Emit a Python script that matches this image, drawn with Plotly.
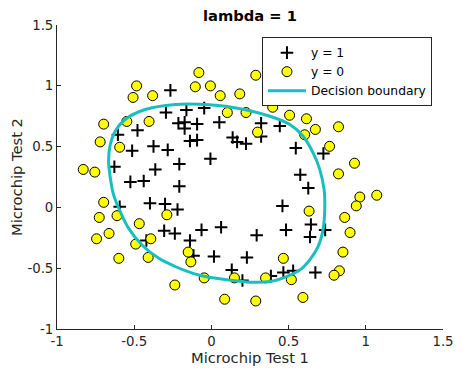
import plotly.graph_objects as go

pos_x = [0.051267, -0.092742, -0.21371, -0.375, -0.51325, -0.52477, -0.39804, -0.30588, 0.016705, 0.13191,
         0.38537, 0.52938, 0.63882, 0.73675, 0.54666, 0.322, 0.16647, -0.046659, -0.17339, -0.47869,
         -0.60541, -0.62846, -0.59389, -0.42108, -0.11578, 0.20104, 0.46601, 0.67339, -0.13882, -0.29435,
         -0.26555, -0.16187, -0.17339, -0.28283, -0.36348, -0.30012, -0.23675, -0.06394, 0.062788, 0.22984,
         0.2932, 0.48329, 0.64459, 0.46025, 0.6273, 0.57546, 0.72523, 0.22408, 0.44297, 0.322,
         0.13767, -0.0063364, -0.092742, -0.20795, -0.20795, -0.43836, -0.21947, -0.13882]
pos_y = [0.69956, 0.68494, 0.69225, 0.50219, 0.46564, 0.2098, 0.034357, -0.19225, -0.40424, -0.51389,
         -0.56506, -0.5212, -0.24342, -0.18494, 0.48757, 0.5826, 0.53874, 0.81652, 0.69956, 0.63377,
         0.59722, 0.33406, 0.005117, -0.27266, -0.39693, -0.60161, -0.53582, -0.53582, 0.54605, 0.77997,
         0.96272, 0.8019, 0.64839, 0.47295, 0.31213, 0.027047, -0.21418, -0.18494, -0.16301, -0.41155,
         -0.2288, -0.18494, -0.14108, 0.012427, 0.15863, 0.26827, 0.44371, 0.52412, 0.67032, 0.69225,
         0.57529, 0.39985, 0.55336, 0.35599, 0.17325, 0.21711, -0.016813, -0.27266]

neg_x = [0.18376, 0.22408, 0.29896, 0.50634, 0.61578, 0.60426, 0.76555, 0.92684, 0.82316, 0.96141,
         0.93836, 0.86348, 0.89804, 0.85196, 0.82892, 0.79435, 0.59274, 0.51786, 0.46601, 0.35081,
         0.28744, 0.085829, 0.14919, -0.13306, -0.40956, -0.39228, -0.74366, -0.69758, -0.75518, -0.69758,
         -0.4038, -0.38076, -0.50749, -0.54781, 0.10311, 0.057028, -0.10426, -0.081221, 0.28744, 0.39689,
         0.63882, 0.82316, 0.67339, 1.0709, -0.046659, -0.23675, -0.15035, -0.49021, -0.46717, -0.28859,
         -0.61118, -0.66302, -0.59965, -0.72638, -0.83007, -0.72062, -0.59389, -0.48445, -0.0063364, 0.63265]
neg_y = [0.93348, 0.77997, 0.61915, 0.75804, 0.7288, 0.59722, 0.50219, 0.3633, 0.27558, 0.085526,
         0.012427, -0.082602, -0.20687, -0.36769, -0.5212, -0.55775, -0.7405, -0.5943, -0.41886, -0.57968,
         -0.76974, -0.75512, -0.57968, -0.4481, -0.41155, -0.25804, -0.25804, 0.041667, 0.2902, 0.68494,
         0.70687, 0.91886, 0.90424, 0.70687, 0.77997, 0.91886, 0.99196, 1.1089, 1.087, 0.82383,
         0.88962, 0.66301, 0.64108, 0.10015, -0.57968, -0.63816, -0.36769, -0.3019, -0.13377, -0.060673,
         -0.067982, -0.21418, -0.41886, -0.082602, 0.31213, 0.53874, 0.49488, 0.99927, 0.99927, -0.030612]

# decision boundary
bnd_x = [0.140, -0.074, -0.235, -0.429, -0.559, -0.623, -0.655, -0.666, -0.655, -0.634,
         -0.591, -0.537, -0.451, -0.343, -0.235, -0.151, -0.041, 0.107, 0.250, 0.379,
         0.487, 0.573, 0.637, 0.691, 0.723, 0.734, 0.730, 0.702, 0.659, 0.594,
         0.508, 0.379, 0.140]
bnd_y = [0.822, 0.848, 0.847, 0.805, 0.723, 0.627, 0.517, 0.379, 0.245, 0.105,
         -0.033, -0.170, -0.307, -0.417, -0.486, -0.528, -0.569, -0.596, -0.615, -0.610,
         -0.569, -0.514, -0.431, -0.322, -0.184, -0.018, 0.146, 0.311, 0.448, 0.585,
         0.682, 0.750, 0.822]

tick_vals = [-1, -0.5, 0, 0.5, 1, 1.5]
tick_text = ["-1", "-0.5", "0", "0.5", "1", "1.5"]

FONT = "DejaVu Sans"
INK = "#262626"
fig = go.Figure()
fig.add_trace(go.Scatter(x=pos_x, y=pos_y, mode="markers", name="y = 1",
                         marker=dict(symbol="cross-thin", size=9, color="black",
                                     line=dict(width=2, color="black"))))
fig.add_trace(go.Scatter(x=neg_x, y=neg_y, mode="markers", name="y = 0",
                         marker=dict(symbol="circle", size=10, color="#FFFF00",
                                     line=dict(width=1, color="black"))))
fig.add_trace(go.Scatter(x=bnd_x, y=bnd_y, mode="lines", name="Decision boundary",
                         line=dict(color="#19BFBF", width=3, shape="spline", smoothing=0.9)))

axis_common = dict(showgrid=False, zeroline=False, showline=True, linecolor=INK, linewidth=1,
                   ticks="inside", ticklen=4, tickcolor=INK, tickvals=tick_vals, ticktext=tick_text,
                   tickfont=dict(family=FONT, size=13.3, color=INK), mirror=False, automargin=False)
fig.update_xaxes(range=[-1, 1.5], title=dict(text="Microchip Test 1", font=dict(family=FONT, size=14.7, color=INK), standoff=3), **axis_common)
fig.update_yaxes(range=[-1, 1.5], title=dict(text="Microchip Test 2", font=dict(family=FONT, size=14.7, color=INK), standoff=3), **axis_common)

# page has an 8px body margin, so margins are shifted by 8px
fig.update_layout(
    width=469, height=383,
    margin=dict(l=49, r=34, t=17, b=62),
    paper_bgcolor="white", plot_bgcolor="white",
    title=dict(text="<b>lambda = 1</b>", x=(250 - 8) / 469, xanchor="center", y=1 - 3 / 383, yanchor="top",
               pad=dict(t=0, b=0), font=dict(family=FONT, size=14.7, color="black")),
    legend=dict(x=0.531, y=0.96, xanchor="left", yanchor="top", bgcolor="white",
                bordercolor=INK, borderwidth=1, font=dict(family=FONT, size=12.3, color="black"),
                tracegroupgap=0, itemwidth=38),
    showlegend=True,
)
fig.write_html("out.html")
